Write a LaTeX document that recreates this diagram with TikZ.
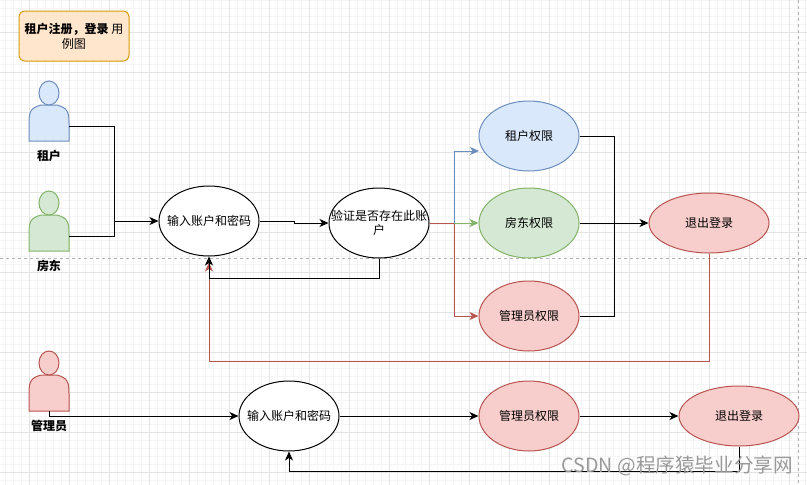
\documentclass[tikz,border=0pt]{standalone}
\usepackage{fontspec}
\setmainfont{Noto Sans CJK SC}
\usetikzlibrary{arrows.meta, positioning, calc, shapes.geometric}

\definecolor{blueFill}{HTML}{DAE8FC}
\definecolor{blueLine}{HTML}{6C8EBF}
\definecolor{greenFill}{HTML}{D5E8D4}
\definecolor{greenLine}{HTML}{82B366}
\definecolor{redFill}{HTML}{F8CECC}
\definecolor{redLine}{HTML}{B85450}
\definecolor{orangeFill}{HTML}{FFE6CC}
\definecolor{orangeLine}{HTML}{D79B00}

\tikzset{
    gridminor/.style={draw=black!4, line width=0.8pt},
    gridmajor/.style={draw=black!11, line width=0.8pt},
    pagebreak/.style={draw=black!30, line width=0.7pt, dashed},
    usecase/.style={draw, ellipse, minimum width=100pt, minimum height=70pt, inner ysep=0pt,
                    inner xsep=-20pt, align=center, line width=1pt, font=\fontsize{12}{14}\selectfont},
    exitcase/.style={usecase, minimum width=120pt, minimum height=60pt, fill=redFill, draw=redLine},
    actorbox/.style={minimum width=40pt, minimum height=60pt, inner sep=0pt, outer sep=0pt},
    actorname/.style={font=\bfseries\fontsize{12}{14}\selectfont, inner sep=0pt},
    link/.style={line width=1pt, -{Stealth[length=9pt, width=8pt, inset=2.5pt]}},
    plainlink/.style={line width=1pt},
}

% figure at a named box: name, x, y, fill, line
\newcommand{\actorfig}[5]{
    \node[actorbox] (#1) at (#2,#3) {};
    \filldraw[fill=#4, draw=#5, line width=1pt]
        (#1.south west) -- ++(0,-18)
        .. controls ++(0,-12) and ++(-10,3) .. ++(12,-18)
        -- ++(16,0)
        .. controls ++(10,3) and ++(0,-12) .. ++(12,18)
        -- ++(0,18) -- cycle;
    \filldraw[fill=#4, draw=#5, line width=1pt]
        ($(#1.north)+(0,12)$) ellipse [x radius=10pt, y radius=12pt];
}

\begin{document}
\begin{tikzpicture}[x=1pt, y=-1pt]
    \useasboundingbox (0,0) rectangle (807,485);
    \fill[white] (0,0) rectangle (807,485);

    % background grid
    \foreach \gx in {5,13,...,805} \draw[gridminor] (\gx,0) -- (\gx,485);
    \foreach \gy in {0,8,...,484} \draw[gridminor] (0,\gy) -- (807,\gy);
    \foreach \gx in {29,69,...,805} \draw[gridmajor] (\gx,0) -- (\gx,485);
    \foreach \gy in {32,72,...,484} \draw[gridmajor] (0,\gy) -- (807,\gy);
    \draw[pagebreak] (0,258) -- (807,258);
    \draw[pagebreak] (798,0) -- (798,485);

    \node[draw=orangeLine, fill=orangeFill, rounded corners=6pt, line width=1pt,
          minimum width=110pt, minimum height=50pt, inner sep=0pt, align=center,
          font=\fontsize{12}{15}\selectfont] (title) at (74,36)
        {\textbf{租户注册，登录} 用\\例图};

    % actors
    \actorfig{tenant}{49}{111}{blueFill}{blueLine}
    \actorfig{landlord}{49}{221}{greenFill}{greenLine}
    \actorfig{admin}{49}{381}{redFill}{redLine}
    \node[actorname, below=9pt of tenant] (tenantname) {租户};
    \node[actorname, below=9pt of landlord] (landlordname) {房东};
    \node[actorname, below=9pt of admin] (adminname) {管理员};

    % upper flow
    \node[usecase, fill=white] (inputA) at (209,221) {输入账户和密码};
    \node[usecase, fill=white] (verify) at (379,223) {验证是否存在此账\\户};
    \node[usecase, fill=blueFill, draw=blueLine] (tenantright) at (529,136) {租户权限};
    \node[usecase, fill=greenFill, draw=greenLine] (landlordright) at (529,223) {房东权限};
    \node[usecase, fill=redFill, draw=redLine] (adminright) at (529,316) {管理员权限};
    \node[exitcase] (logoutA) at (709,223) {退出登录};

    % lower flow
    \node[usecase, fill=white] (inputB) at (289,416) {输入账户和密码};
    \node[usecase, fill=redFill, draw=redLine] (adminrightB) at (529,416) {管理员权限};
    \node[exitcase] (logoutB) at (739,416) {退出登录};

    \coordinate (tenantentry) at (479,151);

    \draw[plainlink] ([yshift=-15pt]tenant.east) -| (114,221);
    \draw[plainlink] ([yshift=-15pt]landlord.east) -| (114,221);
    \draw[link] (114,221) -- (inputA.west);
    \draw[link] (inputA.east) -- (294,221) -- (294,223) -- (verify.west);

    \draw[link, draw=blueLine] (454,223) |- (tenantentry);
    \draw[link, draw=redLine] (verify.east) -- (454,223) |- (adminright.west);
    \draw[link, draw=greenLine] (454,223) -- (landlordright.west);

    \draw[link, draw=redLine] (logoutA.south) |- (209,361) -- ([yshift=-6pt]inputA.south);
    \draw[link] (verify.south) |- (209,278) -- (inputA.south);

    \draw[plainlink] (tenantright.east) -| (614,223);
    \draw[plainlink] (adminright.east) -| (614,223);
    \draw[link] (landlordright.east) -- (logoutA.west);

    \draw[link] (admin.south) -- (49,416) -- (inputB.west);
    \draw[link] (inputB.east) -- (adminrightB.west);
    \draw[link] (adminrightB.east) -- (logoutB.west);
    \draw[link] (logoutB.south) |- (289,471) -- (inputB.south);

    \node[text=black!40, font=\fontsize{19.6}{22}\selectfont, inner sep=0pt, anchor=east] (mark) at (793,466)
        {CSDN @程序猿毕业分享网};
\end{tikzpicture}
\end{document}
